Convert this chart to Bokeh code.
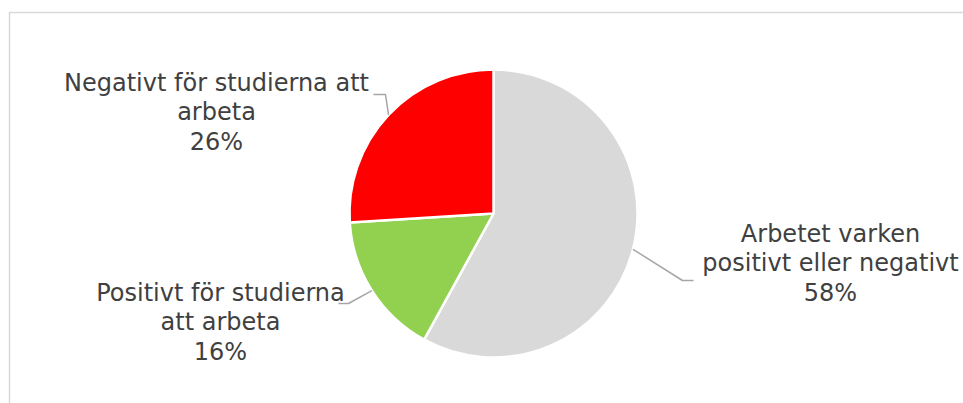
import math
from bokeh.plotting import figure
from bokeh.models import Range1d
from bokeh.core.properties import value
from bokeh.embed import file_html
from bokeh.resources import INLINE

# Data
categories = ["Arbetet varken positivt eller negativt",
              "Positivt för studierna att arbeta",
              "Negativt för studierna att arbeta"]
shares = [58, 16, 26]
colors = ["#d9d9d9", "#92d050", "#ff0000"]
label_lines = [["Arbetet varken", "positivt eller negativt", "58%"],
               ["Positivt för studierna", "att arbeta", "16%"],
               ["Negativt för studierna att", "arbeta", "26%"]]

W, H = 963, 403

def Y(ypage):
    return H - ypage

p = figure(width=W, height=H, output_backend="svg", toolbar_location=None,
           x_range=Range1d(0, W), y_range=Range1d(0, H),
           min_border=0)
p.axis.visible = False
p.grid.visible = False
p.outline_line_color = None
p.background_fill_color = "white"

# chart area border
p.line(x=[9, 9, W + 20], y=[Y(H + 20), Y(12), Y(12)],
       line_color="#d9d9d9", line_width=1.5)

cx, cy, r = 493, Y(213), 144
total = sum(shares)
start = 90.0
mids = []
for s, c in zip(shares, colors):
    sweep = 360.0 * s / total
    end = start - sweep
    p.wedge(x=cx, y=cy, radius=r, start_angle=math.radians(start),
            end_angle=math.radians(end), direction="clock",
            fill_color=c, line_color="white", line_width=2.5)
    mids.append(math.radians((start + end) / 2))
    start = end

# label anchor (page coordinates) and leader line elbows
label_pos = [(830, 233), (220, 292), (216, 82)]
elbows = [[(682, 280), (693, 280)],
          [(348, 303), (338, 303)],
          [(385, 94), (373, 94)]]

line_h = 29.5
for i, lines in enumerate(label_lines):
    ex = cx + r * math.cos(mids[i])
    ey = cy + r * math.sin(mids[i])
    xs = [ex] + [e[0] for e in elbows[i]]
    ys = [ey] + [Y(e[1]) for e in elbows[i]]
    p.line(x=xs, y=ys, line_color="#a6a6a6", line_width=1.5)
    lx, ly = label_pos[i]
    for j, t in enumerate(lines):
        p.text(x=[lx], y=[Y(ly + j * line_h)], text=[t],
               text_font=value("DejaVu Sans"), text_font_size="24px",
               text_color="#404040", text_align="center",
               text_baseline="middle")

open("out.html", "w").write(file_html(p, INLINE))
